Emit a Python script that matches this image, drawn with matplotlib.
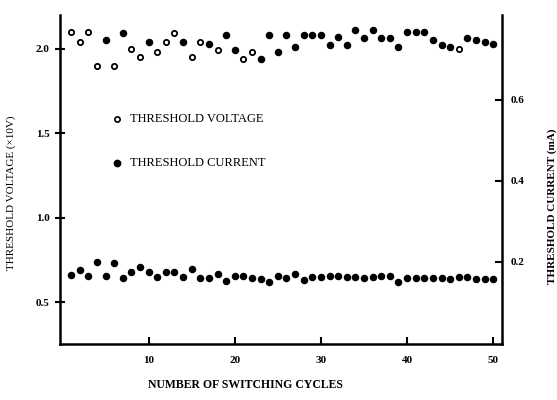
import matplotlib
matplotlib.use("Agg")
import matplotlib.pyplot as plt
from matplotlib.lines import Line2D

plt.rcParams['font.family'] = ['Liberation Serif', 'DejaVu Serif']

cycles = list(range(1, 51))
voltage = [2.10, 2.04, 2.10, 1.90, 2.05, 1.90, 2.09, 2.00, 1.95, 2.04,
           1.98, 2.04, 2.09, 2.04, 1.95, 2.04, 2.03, 1.99, 2.08, 1.99,
           1.94, 1.98, 1.94, 2.08, 1.98, 2.08, 2.01, 2.08, 2.08, 2.08,
           2.02, 2.07, 2.02, 2.11, 2.06, 2.11, 2.06, 2.06, 2.01, 2.10,
           2.10, 2.10, 2.05, 2.02, 2.01, 2.00, 2.06, 2.05, 2.04, 2.03]
# points that appear as open circles in the reference
voltage_open = [1, 2, 3, 4, 6, 8, 9, 11, 12, 13, 15, 16, 18, 21, 22, 46]
current = [0.168, 0.179, 0.165, 0.199, 0.166, 0.197, 0.161, 0.175, 0.187, 0.175,
           0.163, 0.176, 0.176, 0.163, 0.181, 0.161, 0.161, 0.170, 0.153, 0.165,
           0.165, 0.160, 0.158, 0.151, 0.164, 0.161, 0.171, 0.156, 0.162, 0.163,
           0.165, 0.165, 0.163, 0.162, 0.161, 0.162, 0.164, 0.166, 0.151, 0.161,
           0.161, 0.160, 0.160, 0.161, 0.158, 0.162, 0.162, 0.158, 0.158, 0.158]
x_ticks = [10, 20, 30, 40, 50]
v_ticks = [0.5, 1.0, 1.5, 2.0]
i_ticks = [0.2, 0.4, 0.6]

fig = plt.figure(figsize=(5.57, 4.0), dpi=100)
ax = fig.add_axes([0.1077, 0.139, 0.7933, 0.824])
ax2 = ax.twinx()

vo_x = [c for c, v in zip(cycles, voltage) if c in voltage_open]
vo_y = [v for c, v in zip(cycles, voltage) if c in voltage_open]
vf_x = [c for c, v in zip(cycles, voltage) if c not in voltage_open]
vf_y = [v for c, v in zip(cycles, voltage) if c not in voltage_open]
ax.plot(vo_x, vo_y, 'o', ms=3.8, mfc='white', mec='black', mew=1.3, ls='none')
ax.plot(vf_x, vf_y, 'o', ms=4.4, mfc='black', mec='black', ls='none')
ax2.plot(cycles, current, 'o', ms=4.4, mfc='black', mec='black', ls='none')

ax.set_xlim(-0.29, 51.0)
ax.set_ylim(0.25, 2.2)
ax2.set_ylim(-0.004, 0.81)

ax.set_xticks(x_ticks)
ax.set_xticklabels([str(t) for t in x_ticks])
ax.set_yticks(v_ticks)
ax.set_yticklabels([f"{t:.1f}" for t in v_ticks])
ax2.set_yticks(i_ticks)
ax2.set_yticklabels([f"{t:.1f}" for t in i_ticks])

for a in (ax, ax2):
    a.spines['top'].set_visible(False)
    for s in ('left', 'right', 'bottom'):
        a.spines[s].set_linewidth(1.8)
ax.spines['right'].set_visible(False)
ax2.spines['left'].set_visible(False)
ax2.spines['bottom'].set_visible(False)

ax.tick_params(axis='x', direction='in', length=5, width=1.5, labelsize=8, pad=8)
ax.tick_params(axis='y', direction='inout', length=7, width=1.5, labelsize=8, pad=4)
ax2.tick_params(axis='y', direction='in', length=5, width=1.5, labelsize=8, pad=6)
for lab in ax.get_xticklabels() + ax.get_yticklabels() + ax2.get_yticklabels():
    lab.set_fontweight('bold')

ax.set_xlabel("NUMBER OF SWITCHING CYCLES", fontsize=8.5, fontweight='bold')
ax.xaxis.set_label_coords(0.42, -0.105)
ax.set_ylabel("THRESHOLD VOLTAGE (×10V)", fontsize=8)
ax.yaxis.set_label_coords(-0.10, 0.46)
ax2.set_ylabel("THRESHOLD CURRENT (mA)", fontsize=8, fontweight='bold')
ax2.yaxis.set_label_coords(1.103, 0.42)

# legend
lx, ltx = 117, 130
for yp, label, fc in [(119, "THRESHOLD VOLTAGE", 'white'), (163, "THRESHOLD CURRENT", 'black')]:
    fx = lx / 557
    fy = 1 - yp / 400
    fig.add_artist(Line2D([fx], [fy], marker='o', ms=3.8 if fc == 'white' else 4.4,
                          mfc=fc, mec='black', mew=1.2, ls='none', transform=fig.transFigure))
    fig.text(ltx / 557, fy, label, fontsize=9, va='center', ha='left')

fig.savefig("out.png", dpi=100)
